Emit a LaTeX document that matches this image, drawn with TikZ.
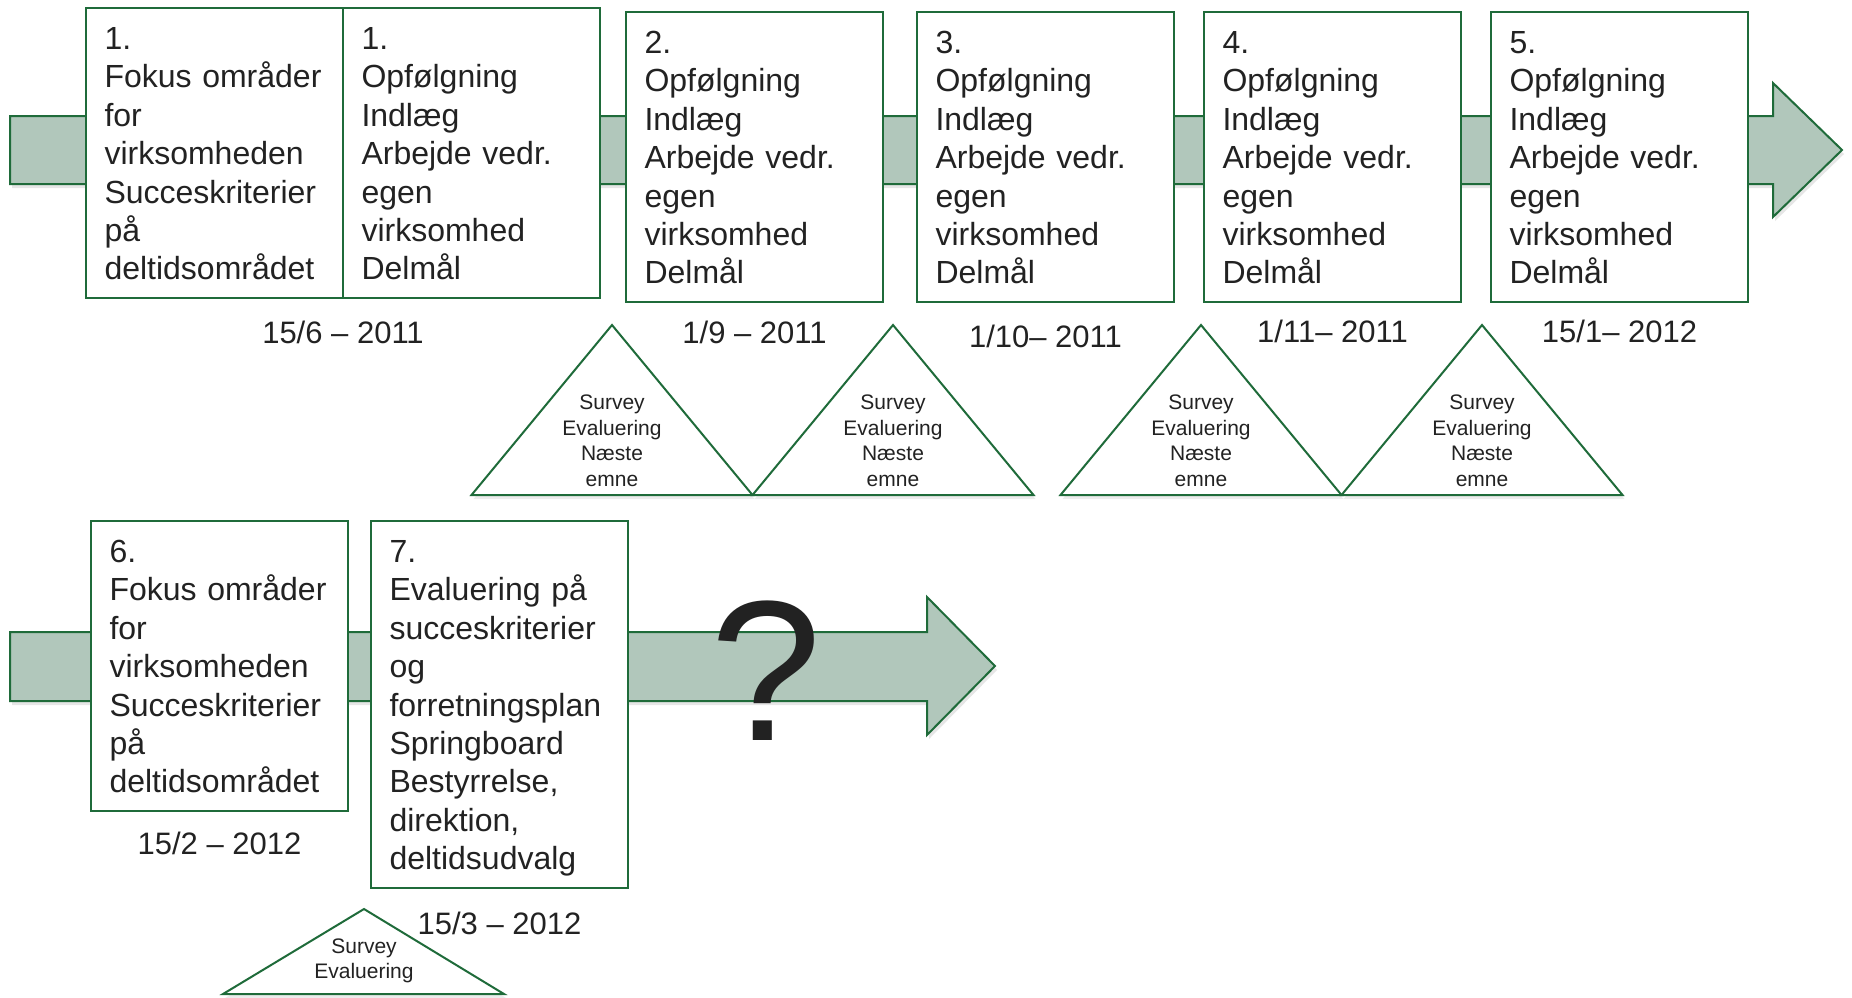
\documentclass[tikz,border=0pt]{standalone}
\usepackage{fontspec}
\setmainfont{Liberation Sans}
\usetikzlibrary{positioning,shadows}
\definecolor{groen}{HTML}{1F6B3A}
\definecolor{pilgroen}{HTML}{B1C7BB}
\definecolor{tekst}{HTML}{222222}

\begin{document}
\begin{tikzpicture}[x=0.5pt, y=-0.5pt, line width=1pt, text=tekst,
    fase/.style = {draw=groen, fill=white, outer sep=0pt, inner xsep=9.25pt, text width=110pt, minimum height=145pt, align=left, font=\fontsize{16pt}{19.2pt}\selectfont, execute at begin node={\rule{0pt}{15.44pt}}, execute at end node={\rule[-3.76pt]{0pt}{0pt}}},
    datum/.style = {inner sep=0pt, font=\fontsize{15.5pt}{18pt}\selectfont},
    pil/.style = {draw=groen, fill=pilgroen, drop shadow={shadow xshift=1pt, shadow yshift=-2pt, opacity=0.2}},
    trekant/.style = {draw=groen, fill=white, drop shadow={shadow xshift=1pt, shadow yshift=-2pt, opacity=0.15}},
    lille/.style = {align=center, inner sep=0pt, font=\fontsize{10.5pt}{12.75pt}\selectfont}]

    \useasboundingbox (0,0) rectangle (1852,997);

    \draw[pil] (10,116) -- (1773,116) -- (1773,83) -- (1842,150) -- (1773,217) -- (1773,184) -- (10,184) -- cycle;
    \draw[pil] (10,632) -- (927,632) -- (927,597) -- (995,666) -- (927,735) -- (927,701) -- (10,701) -- cycle;

    \node[fase, anchor=north west] (b1a) at (86,8) {1.\\Fokus områder\\for\\virksomheden\\Succeskriterier\\på\\deltidsområdet};
    \node[fase] (b1b) [right=0pt of b1a] {1.\\Opfølgning\\Indlæg\\Arbejde vedr.\\egen\\virksomhed\\Delmål};
    \node[fase] (b2) [right=13pt of b1b, yshift=-2pt] {2.\\Opfølgning\\Indlæg\\Arbejde vedr.\\egen\\virksomhed\\Delmål};
    \node[fase] (b3) [right=17pt of b2] {3.\\Opfølgning\\Indlæg\\Arbejde vedr.\\egen\\virksomhed\\Delmål};
    \node[fase] (b4) [right=15pt of b3] {4.\\Opfølgning\\Indlæg\\Arbejde vedr.\\egen\\virksomhed\\Delmål};
    \node[fase] (b5) [right=15pt of b4] {5.\\Opfølgning\\Indlæg\\Arbejde vedr.\\egen\\virksomhed\\Delmål};

    \node[datum] (d1) [below=11pt of b1a.south east] {15/6 – 2011};
    \node[datum] (d2) [below=9pt of b2] {1/9 – 2011};
    \node[datum] (d3) [below=11pt of b3] {1/10– 2011};
    \node[datum] (d4) [below=8.5pt of b4] {1/11– 2011};
    \node[datum] (d5) [below=8.5pt of b5] {15/1– 2012};

    \foreach \x [count=\i] in {612, 893, 1201, 1482} {
        \draw[trekant] (\x-140.5,495) -- (\x,325) -- (\x+140.5,495) -- cycle;
        \node[lille] (t\i) at (\x,441) {Survey\\Evaluering\\Næste\\emne};
    }

    \node[fase, anchor=north west] (b6) at (91,521) {6.\\Fokus områder\\for\\virksomheden\\Succeskriterier\\på\\deltidsområdet};
    \node[fase, minimum height=183.5pt] (b7) [right=11.5pt of b6.north east, anchor=north west] {7.\\Evaluering på\\succeskriterier\\og\\forretningsplan\\Springboard\\Bestyrrelse,\\direktion,\\deltidsudvalg};

    \node[datum] (d6) [below=10pt of b6] {15/2 – 2012};
    \node[datum] (d7) [below=11.5pt of b7] {15/3 – 2012};

    \draw[trekant] (223,994) -- (364,909) -- (504,994) -- cycle;
    \node[lille] (t5) at (364,961) {Survey\\Evaluering};

    \node[inner sep=0pt, anchor=base, font=\fontsize{100pt}{120pt}\selectfont] (spm) at (766,740) {?};

\end{tikzpicture}
\end{document}
